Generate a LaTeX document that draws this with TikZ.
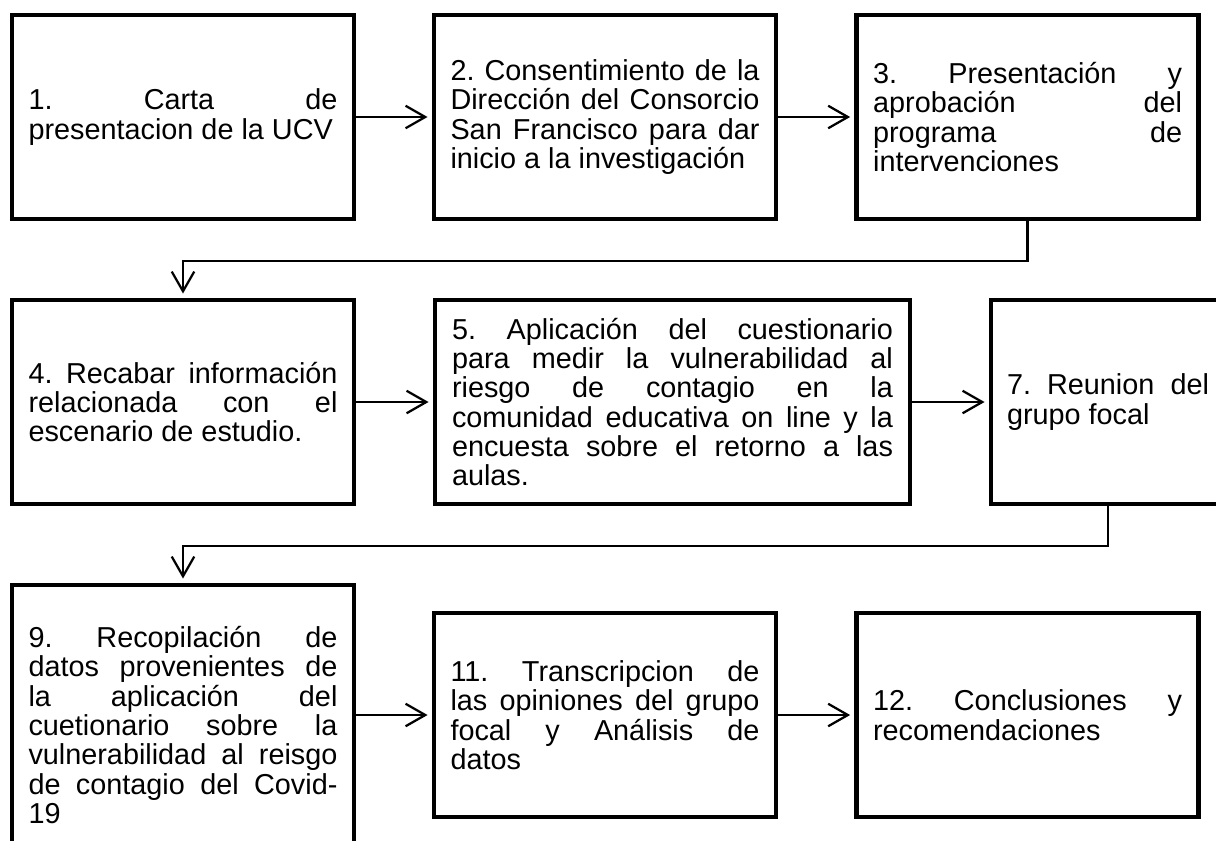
\documentclass[tikz,border=0pt]{standalone}
\usepackage{fontspec}
\setmainfont{Liberation Sans}
\usetikzlibrary{arrows.meta}
\frenchspacing
\tolerance=10000
\hbadness=10000
\begin{document}
\begin{tikzpicture}[
    caja/.style={draw,line width=3.2pt,align=justify,text width=7.725cm,minimum width=8.55cm,minimum height=5.1cm,font=\fontsize{20.5}{20.9}\selectfont},
    flecha/.style={line width=1.6pt,-{Straight Barb[length=14pt,width=16pt]},shorten >=3pt}]
            \useasboundingbox (0,0) rectangle (30.4,-21);

            \node[caja] (b1) at (4.575,-2.925) {1. Carta de\linebreak presentacion de la UCV};
            \node[caja] (b2) at (15.125,-2.925) {2. Consentimiento de la\linebreak Dirección del Consorcio\linebreak San Francisco para dar\linebreak inicio a la investigación};
            \node[caja] (b3) at (25.69,-2.925) {3. Presentación y\linebreak aprobación del\linebreak programa de\linebreak intervenciones};
            \node[caja] (b4) at (4.575,-10.05) {4. Recabar información\linebreak relacionada con el\linebreak escenario de estudio.};
            \node[caja,text width=11.025cm,minimum width=11.875cm] (b5) at (16.8125,-10.05) {5. Aplicación del cuestionario\linebreak para medir la vulnerabilidad al\linebreak riesgo de contagio en la\linebreak comunidad educativa on line y la\linebreak encuesta sobre el retorno a las\linebreak aulas.};
            \node[caja,text width=5.05cm,minimum width=5.85cm] (b7) at (27.7,-10.05) {7. Reunion del\linebreak grupo focal};
            \node[caja,minimum height=7cm] (b9) at (4.575,-18.125) {9. Recopilación de\linebreak datos provenientes de\linebreak la aplicación del\linebreak cuetionario sobre la\linebreak vulnerabilidad al reisgo\linebreak de contagio del Covid-\linebreak 19};
            \node[caja] (b11) at (15.125,-17.875) {11. Transcripcion de\linebreak las opiniones del grupo\linebreak focal y Análisis de\linebreak datos};
            \node[caja] (b12) at (25.69,-17.875) {12. Conclusiones y\linebreak recomendaciones};

            \draw[flecha] (b1) -- (b2);
            \draw[flecha] (b2) -- (b3);
            \draw[flecha] (b3.south) -- ++(0,-1) -| (b4.north);
            \draw[flecha] (b4) -- (b5);
            \draw[flecha] (b5) -- (b7);
            \draw[flecha] (b7.south) -- ++(0,-1) -| (b9.north);
            \draw[flecha] (b9.east |- b11.west) -- (b11.west);
            \draw[flecha] (b11) -- (b12);
\end{tikzpicture}
\end{document}
